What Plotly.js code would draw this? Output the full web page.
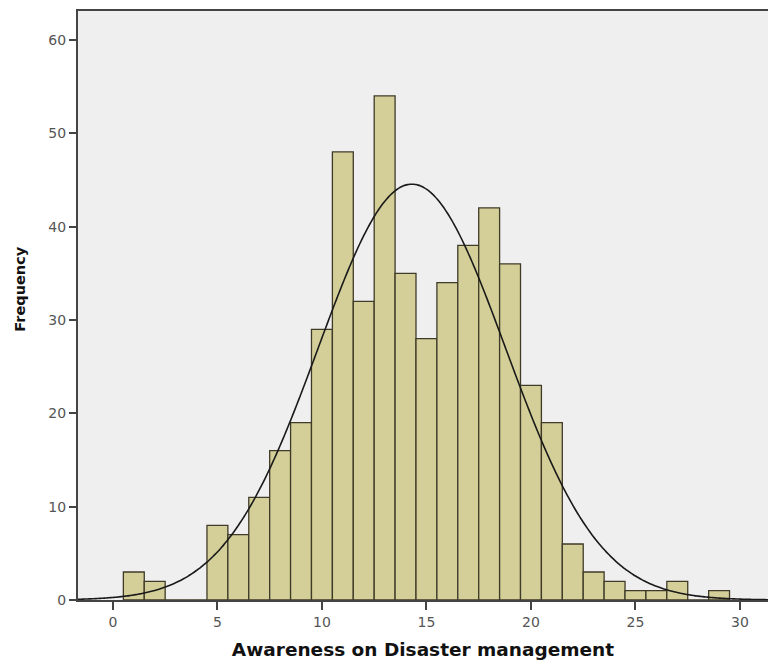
<!DOCTYPE html>
<html>
<head>
<meta charset="utf-8">
<script src="https://cdn.plot.ly/plotly-2.35.2.min.js"></script>
<style>html,body{margin:0;padding:0;background:#fff;}</style>
</head>
<body>
<div id="chart" style="width:768px;height:663px;"></div>
<script>
// Bin centres (score values) and their frequencies
const scores = [1,2,3,4,5,6,7,8,9,10,11,12,13,14,15,16,17,18,19,20,21,22,23,24,25,26,27,28,29];
const frequencies = [3,2,0,0,8,7,11,16,19,29,48,32,54,35,28,34,38,42,36,23,19,6,3,2,1,1,2,0,1];
const xTicks = [0,5,10,15,20,25,30];
const yTicks = [0,10,20,30,40,50,60];

// Fitted normal curve from the data's mean and SD (as SPSS draws it)
let N = 0, s1 = 0, s2 = 0;
for (let i = 0; i < scores.length; i++) { N += frequencies[i]; s1 += scores[i]*frequencies[i]; s2 += scores[i]*scores[i]*frequencies[i]; }
const mean = s1 / N;
const sd = Math.sqrt((s2 - N*mean*mean) / (N - 1));
const curveX = [], curveY = [];
for (let x = -1.7; x <= 31.5; x += 0.1) {
  curveX.push(x);
  curveY.push(N * 1 / (sd * Math.sqrt(2*Math.PI)) * Math.exp(-0.5*Math.pow((x-mean)/sd, 2)));
}

const traces = [
  {
    type: 'bar', x: scores, y: frequencies, width: 1,
    marker: {color: '#d4cf98', line: {color: '#3f3b28', width: 1.3}},
    hoverinfo: 'x+y'
  },
  {
    type: 'scatter', mode: 'lines', x: curveX, y: curveY,
    line: {color: '#1a1a1a', width: 1.6, shape: 'spline'},
    hoverinfo: 'skip'
  }
];

const tickFont = {family: 'DejaVu Sans, Verdana, sans-serif', size: 14, color: '#555'};

const layout = {
  width: 768, height: 663,
  margin: {l: 78, r: 0, t: 11, b: 63},
  paper_bgcolor: '#ffffff',
  plot_bgcolor: '#efefef',
  showlegend: false,
  bargap: 0,
  xaxis: {
    range: [-1.67, 31.34],
    tickvals: xTicks, ticktext: xTicks.map(String),
    ticks: 'outside', ticklen: 8, tickwidth: 2, tickcolor: '#444',
    showgrid: false, zeroline: false,
    showline: true, linecolor: '#444', linewidth: 2, mirror: true,
    tickfont: tickFont,
    title: {text: 'Awareness on Disaster management', standoff: 14,
            font: {family: 'DejaVu Sans, Verdana, sans-serif', size: 18.5, color: '#111', weight: 'bold'}}
  },
  yaxis: {
    range: [0, 63.1],
    tickvals: yTicks, ticktext: yTicks.map(String),
    ticks: 'outside', ticklen: 7, tickwidth: 2, tickcolor: '#444',
    showgrid: false, zeroline: false,
    showline: true, linecolor: '#444', linewidth: 2, mirror: true,
    tickfont: tickFont
  },
  annotations: [{
    text: 'Frequency', textangle: -90, showarrow: false,
    xref: 'paper', yref: 'paper', x: -0.084, y: 0.527,
    xanchor: 'center', yanchor: 'middle',
    font: {family: 'DejaVu Sans, Verdana, sans-serif', size: 14.5, color: '#111', weight: 'bold'}
  }]
};

Plotly.newPlot('chart', traces, layout, {displayModeBar: false, staticPlot: true});
</script>
</body>
</html>
